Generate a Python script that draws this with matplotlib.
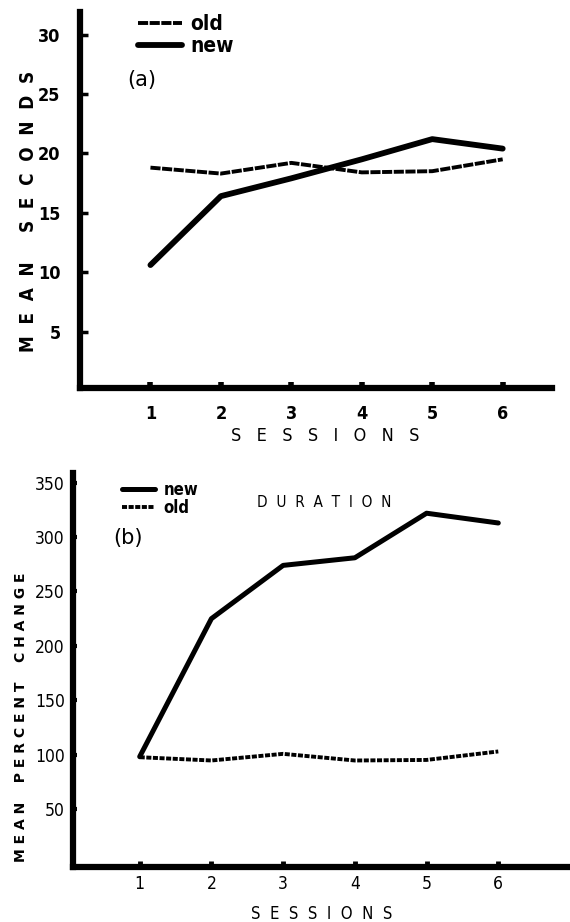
import matplotlib.pyplot as plt
from matplotlib.lines import Line2D

sessions = [1, 2, 3, 4, 5, 6]

# panel (a): mean seconds
old_sec = [18.8, 18.3, 19.2, 18.4, 18.5, 19.5]
new_sec = [10.6, 16.4, 17.9, 19.5, 21.2, 20.4]
sec_ticks = [5, 10, 15, 20, 25, 30]

# panel (b): mean percent change, duration
new_pct = [98, 225, 274, 281, 322, 313]
old_pct = [97.5, 94.5, 100.6, 94.5, 95, 102.8]
pct_ticks = [50, 100, 150, 200, 250, 300, 350]

# the scan uses narrow type, DejaVu Sans Condensed is closest
narrow = ['DejaVu Sans']
stretch = 'condensed'

fig = plt.figure(figsize=(5.7, 9.22), dpi=100)

# ---------- (a) ----------
ax1 = fig.add_axes([80/570, 1-388/922, (552-80)/570, (388-12)/922])
ax1.plot(sessions, old_sec, color='black', lw=2.8, ls=(0, (2.6, 0.4)),
         dash_capstyle='butt')
ax1.plot(sessions, new_sec, color='black', lw=4.2, solid_capstyle='round',
         solid_joinstyle='round')
ax1.set_xlim(0, 6.7)
ax1.set_ylim(0.25, 31.9)
ax1.set_xticks(sessions)
ax1.set_yticks(sec_ticks)
for s in ['top', 'right']:
    ax1.spines[s].set_visible(False)
for s in ['left', 'bottom']:
    ax1.spines[s].set_linewidth(4.5)
    ax1.spines[s].set_capstyle('projecting')
ax1.tick_params(axis='y', direction='in', length=6, width=2.5, pad=14)
ax1.tick_params(axis='x', direction='in', length=4.5, width=4, pad=12)
for lab in ax1.get_xticklabels() + ax1.get_yticklabels():
    lab.set_family(narrow)
    lab.set_stretch(stretch)
    lab.set_fontweight('bold')
    lab.set_fontsize(13)
ax1.set_ylabel('M  E  A  N     S  E  C  O  N  D  S', fontsize=13.5,
               fontweight='bold', family=narrow, stretch=stretch)
ax1.yaxis.set_label_coords(-0.09, 0.47)
ax1.set_xlabel('S   E   S   S   I   O   N   S', fontsize=13, family=narrow,
               stretch=stretch)
ax1.xaxis.set_label_coords(0.52, -0.104)
h1 = [Line2D([], [], color='black', lw=2.8, ls=(0, (2.6, 0.4))),
      Line2D([], [], color='black', lw=4.2, solid_capstyle='round')]
fig.legend(h1, ['old', 'new'], loc='upper left',
           bbox_to_anchor=(138/570, 1-14/922), frameon=False,
           prop={'family': narrow, 'weight': 'bold', 'size': 15,
                 'stretch': stretch},
           handlelength=2.1, handletextpad=0.4, labelspacing=0.1,
           borderpad=0, borderaxespad=0)
fig.text(127/570, 1-80/922, '(a)', fontsize=15, va='center', ha='left')

# ---------- (b) ----------
ax2 = fig.add_axes([73/570, 1-867/922, (570-73)/570, (867-473)/922])
ax2.plot(sessions, new_pct, color='black', lw=3.6, solid_capstyle='round',
         solid_joinstyle='round')
ax2.plot(sessions, old_pct, color='black', lw=2.8, ls=(0, (1.3, 0.4)),
         dash_capstyle='butt')
ax2.set_xlim(0.07, 7.0)
ax2.set_ylim(-3.5, 359)
ax2.set_xticks(sessions)
ax2.set_yticks(pct_ticks)
for s in ['top', 'right']:
    ax2.spines[s].set_visible(False)
for s in ['left', 'bottom']:
    ax2.spines[s].set_linewidth(4.5)
    ax2.spines[s].set_capstyle('projecting')
ax2.tick_params(axis='y', direction='in', length=3, width=3, pad=6)
ax2.tick_params(axis='x', direction='in', length=4, width=3.5, pad=6)
for lab in ax2.get_xticklabels() + ax2.get_yticklabels():
    lab.set_family(narrow)
    lab.set_stretch(stretch)
    lab.set_fontsize(12.5)
ax2.set_ylabel('M E A N    P E R C E N T    C H A N G E', fontsize=10,
               fontweight='bold')
ax2.yaxis.set_label_coords(-0.09, 0.38)
ax2.set_xlabel('S  E  S  S  I  O  N  S', fontsize=12, family=narrow,
               stretch=stretch)
ax2.xaxis.set_label_coords(0.50, -0.097)
h2 = [Line2D([], [], color='black', lw=3.6, solid_capstyle='round'),
      Line2D([], [], color='black', lw=2.8, ls=(0, (1.3, 0.4)))]
fig.legend(h2, ['new', 'old'], loc='upper left',
           bbox_to_anchor=(122/570, 1-481/922), frameon=False,
           prop={'family': narrow, 'weight': 'bold', 'size': 12,
                 'stretch': stretch},
           handlelength=2.0, handletextpad=0.5, labelspacing=0.0,
           borderpad=0, borderaxespad=0)
fig.text(113/570, 1-538/922, '(b)', fontsize=15, va='center', ha='left')
fig.text(324/570, 1-502/922, 'D  U  R  A  T  I  O  N', fontsize=11,
         family=narrow, stretch=stretch, ha='center', va='center')

fig.savefig('out.png', dpi=100)
